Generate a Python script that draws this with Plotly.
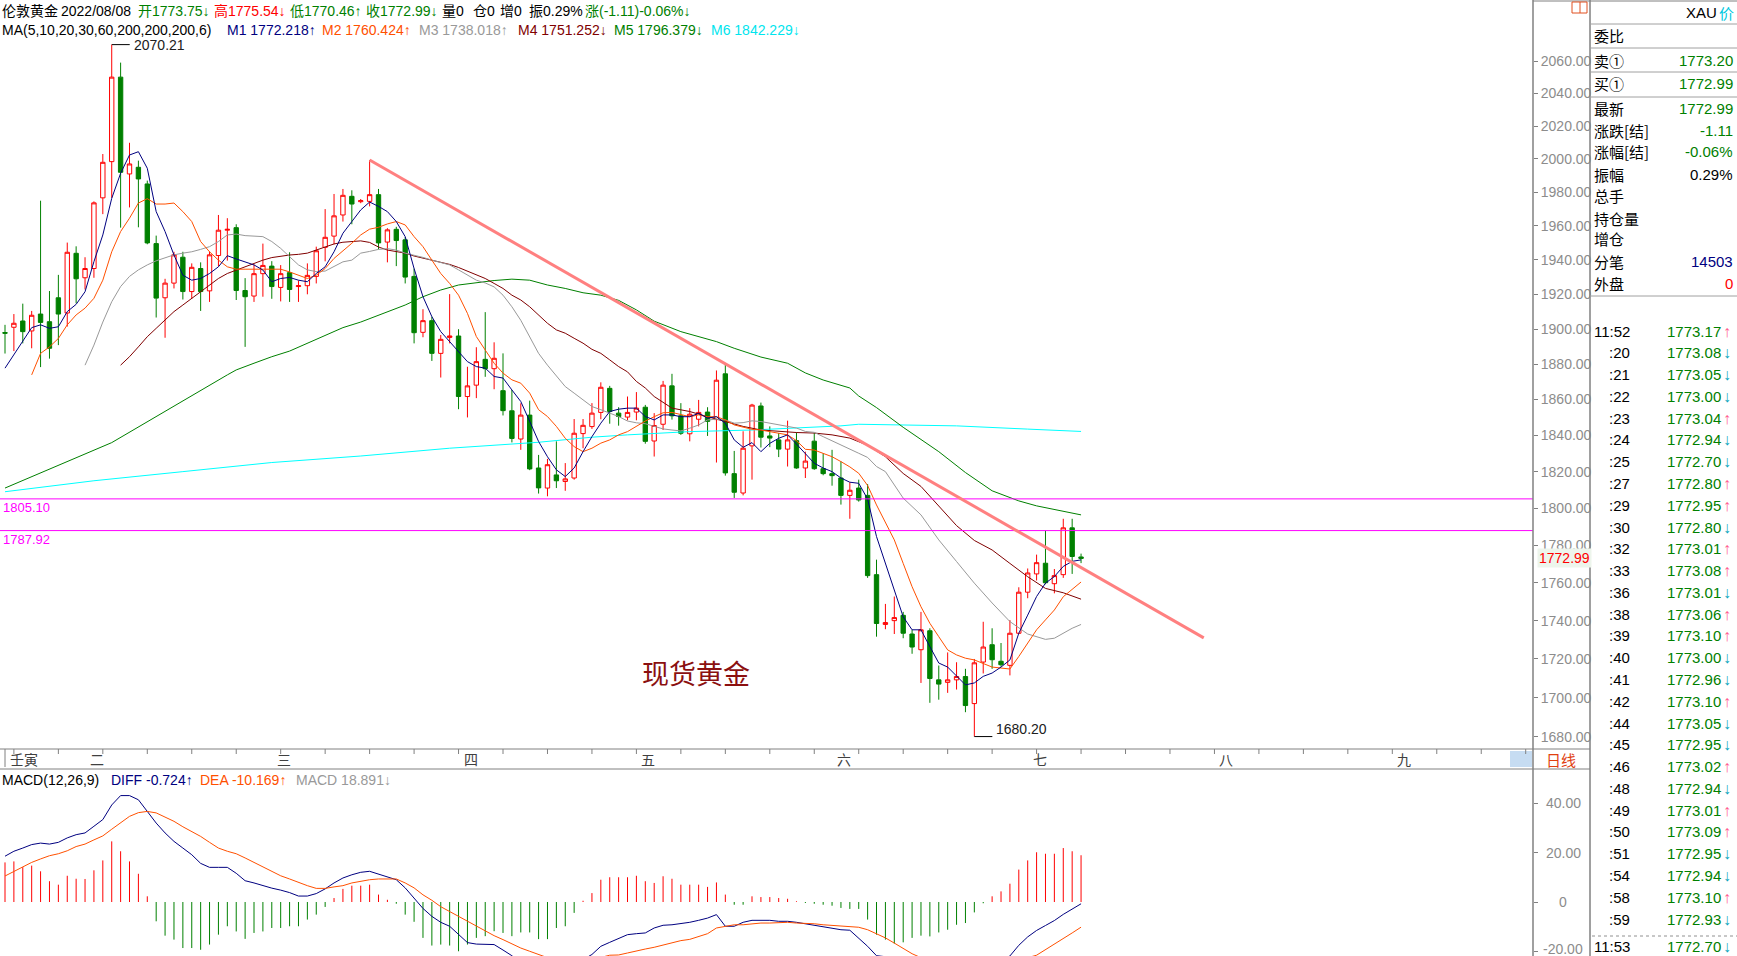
import math
import plotly.graph_objects as go

W, H = 1737, 956
FONT = "Arial, 'Liberation Sans', 'Noto Sans CJK SC', sans-serif"
CJK = "'Noto Sans CJK SC', Arial, sans-serif"

# ---------------- daily candles (index 0 = first visible day) ----------------
opens = [1898.0, 1901.0, 1904.6, 1898.9, 1908.6, 1904.2, 1918.0, 1909.2, 1943.9, 1929.6,
         1935.0, 1976.7, 1998.4, 2050.0, 1991.0, 1995.0, 1985.0, 1949.6, 1918.0, 1926.5,
         1941.6, 1921.6, 1935.0, 1922.0, 1942.6, 1957.5, 1959.0, 1922.2, 1919.0, 1932.0,
         1936.4, 1924.0, 1932.6, 1924.5, 1925.0, 1930.4, 1947.4, 1954.0, 1966.5, 1977.6,
         1974.4, 1974.6, 1978.6, 1950.5, 1958.0, 1951.8, 1930.4, 1898.1, 1904.8, 1886.1,
         1895.2, 1896.0, 1861.7, 1868.1, 1882.7, 1877.4, 1865.0, 1853.7, 1838.0, 1851.3,
         1822.0, 1811.0, 1818.2, 1814.6, 1816.5, 1841.0, 1844.9, 1852.8, 1866.3, 1852.4,
         1850.2, 1853.0, 1855.7, 1836.9, 1846.2, 1867.7, 1850.9, 1840.9, 1849.0, 1853.0,
         1848.8, 1874.5, 1818.9, 1808.3, 1834.2, 1856.4, 1839.7, 1837.5, 1832.4, 1837.1,
         1822.0, 1836.8, 1821.6, 1818.9, 1816.5, 1807.0, 1811.0, 1807.0, 1764.3, 1738.0,
         1740.0, 1742.8, 1733.0, 1724.8, 1734.7, 1709.2, 1707.9, 1709.2, 1710.9, 1697.0,
         1718.4, 1727.4, 1718.8, 1716.7, 1733.4, 1755.0, 1764.7, 1770.4, 1759.5, 1764.3,
         1789.4, 1773.75]
highs = [1902.4, 1908.6, 1914.6, 1910.4, 1975.0, 1921.9, 1931.3, 1950.2, 1948.0, 1941.6,
         1974.6, 2003.0, 2070.21, 2059.0, 2009.8, 1999.0, 1987.0, 1954.3, 1929.0, 1944.8,
         1944.8, 1938.0, 1938.6, 1945.0, 1966.5, 1964.6, 1961.0, 1929.4, 1937.4, 1949.6,
         1939.3, 1937.0, 1944.5, 1928.0, 1938.0, 1947.8, 1970.0, 1979.0, 1982.0, 1981.2,
         1976.0, 1999.4, 1982.0, 1958.7, 1959.5, 1953.5, 1935.0, 1911.4, 1907.1, 1896.6,
         1920.1, 1899.9, 1878.5, 1889.6, 1909.7, 1892.4, 1886.1, 1865.4, 1857.9, 1859.4,
         1829.2, 1827.0, 1836.7, 1824.7, 1849.1, 1849.1, 1858.0, 1869.7, 1867.7, 1855.7,
         1861.7, 1864.2, 1857.0, 1852.4, 1870.5, 1874.5, 1858.0, 1855.2, 1859.8, 1855.7,
         1876.4, 1880.6, 1831.4, 1842.3, 1857.6, 1858.3, 1845.0, 1841.3, 1848.2, 1841.7,
         1831.0, 1841.3, 1830.1, 1832.0, 1825.6, 1814.1, 1815.6, 1813.2, 1772.3, 1748.8,
         1752.7, 1744.6, 1735.2, 1744.6, 1736.0, 1716.6, 1723.4, 1718.3, 1714.9, 1720.0,
         1739.4, 1736.0, 1728.3, 1740.3, 1757.6, 1767.6, 1775.0, 1788.0, 1767.3, 1794.3,
         1794.3, 1775.54]
lows = [1886.0, 1887.4, 1891.8, 1889.0, 1878.3, 1883.1, 1890.8, 1901.4, 1914.8, 1922.8,
        1929.6, 1967.0, 1976.7, 1959.0, 1971.0, 1959.2, 1949.2, 1906.6, 1895.0, 1923.4,
        1917.0, 1917.4, 1910.4, 1915.6, 1936.3, 1939.6, 1916.7, 1889.8, 1915.6, 1918.6,
        1917.4, 1915.9, 1915.6, 1915.6, 1920.0, 1926.3, 1939.2, 1949.2, 1962.6, 1961.0,
        1973.5, 1971.6, 1946.2, 1938.6, 1936.4, 1926.3, 1891.8, 1895.3, 1881.8, 1872.4,
        1891.8, 1854.6, 1850.0, 1860.8, 1872.8, 1865.8, 1851.1, 1836.1, 1832.0, 1820.8,
        1808.0, 1806.5, 1811.0, 1809.5, 1815.6, 1832.9, 1843.6, 1849.0, 1846.5, 1845.4,
        1848.4, 1848.4, 1835.4, 1828.3, 1843.0, 1848.8, 1840.3, 1836.7, 1845.0, 1839.7,
        1825.0, 1817.8, 1805.6, 1807.0, 1815.6, 1833.3, 1833.5, 1828.0, 1822.8, 1821.6,
        1816.5, 1821.0, 1818.0, 1812.3, 1802.0, 1794.3, 1803.6, 1762.6, 1731.6, 1735.5,
        1733.0, 1730.8, 1722.7, 1707.6, 1697.4, 1699.0, 1702.5, 1704.2, 1692.6, 1680.2,
        1712.5, 1714.9, 1716.0, 1711.5, 1733.0, 1751.8, 1761.2, 1759.2, 1754.4, 1762.6,
        1764.7, 1770.46]
closes = [1897.6, 1903.3, 1898.5, 1907.9, 1903.8, 1889.0, 1908.6, 1944.5, 1929.0, 1935.0,
          1973.7, 1998.0, 2050.0, 1992.0, 1997.0, 1988.0, 1950.0, 1917.8, 1926.5, 1943.0,
          1921.6, 1935.7, 1921.6, 1943.0, 1957.5, 1958.0, 1922.2, 1918.6, 1932.0, 1936.8,
          1924.5, 1932.0, 1922.8, 1925.0, 1931.0, 1945.4, 1953.3, 1966.0, 1978.2, 1973.0,
          1975.0, 1978.6, 1950.0, 1957.7, 1951.4, 1930.0, 1897.9, 1904.8, 1886.1, 1894.1,
          1896.0, 1861.7, 1867.7, 1881.4, 1877.4, 1883.3, 1853.8, 1838.3, 1851.3, 1821.5,
          1811.1, 1823.8, 1815.0, 1816.0, 1841.2, 1845.6, 1852.4, 1866.9, 1853.3, 1850.5,
          1852.8, 1855.2, 1836.7, 1845.5, 1868.1, 1850.9, 1841.2, 1851.8, 1852.8, 1847.8,
          1870.9, 1819.3, 1808.7, 1832.9, 1856.9, 1839.0, 1838.5, 1832.4, 1837.5, 1822.0,
          1825.8, 1821.6, 1818.9, 1817.8, 1807.0, 1809.8, 1804.5, 1763.8, 1738.5, 1739.0,
          1741.6, 1733.4, 1726.2, 1735.2, 1709.9, 1707.0, 1709.2, 1710.9, 1696.0, 1718.0,
          1726.2, 1719.6, 1717.0, 1733.4, 1755.0, 1765.2, 1770.7, 1760.0, 1763.8, 1789.4,
          1774.0, 1772.99]
days = list(range(len(closes)))

# ---------------- moving averages ----------------
ma5 = [1877.7, 1885.2, 1892.8, 1900.8, 1902.4, 1900.4, 1901.3, 1910.0, 1914.2, 1921.5,
       1939.0, 1954.7, 1976.4, 1991.4, 2002.4, 2004.4, 1994.4, 1968.5, 1956.7, 1942.9,
       1931.1, 1928.2, 1929.2, 1932.1, 1936.0, 1942.5, 1940.6, 1939.0, 1937.1, 1934.1,
       1927.3, 1929.2, 1929.8, 1928.2, 1927.3, 1932.1, 1936.0, 1944.8, 1955.7, 1962.6,
       1969.5, 1974.2, 1971.6, 1968.5, 1962.6, 1953.7, 1935.0, 1918.6, 1907.1, 1898.5,
       1892.8, 1887.0, 1881.4, 1878.6, 1877.7, 1873.0, 1872.1, 1865.4, 1858.9, 1847.8,
       1836.6, 1828.2, 1821.0, 1817.3, 1822.0, 1831.0, 1839.3, 1846.8, 1853.3, 1854.6,
       1855.2, 1855.2, 1850.5, 1848.6, 1851.4, 1851.4, 1850.4, 1850.4, 1852.3, 1849.6,
       1850.4, 1846.8, 1837.5, 1833.4, 1836.0, 1831.0, 1835.6, 1838.4, 1840.3, 1835.2,
       1830.1, 1824.6, 1822.0, 1820.0, 1816.5, 1814.2, 1813.6, 1805.0, 1784.7, 1770.3,
       1756.2, 1742.0, 1735.2, 1735.2, 1726.4, 1717.9, 1715.8, 1711.0, 1706.6, 1707.6,
       1711.0, 1712.7, 1715.8, 1719.5, 1733.4, 1742.9, 1752.7, 1759.8, 1763.3, 1768.7,
       1771.4, 1772.2]

ma10_days = list(range(3, 122))
ma10 = [1873.9, 1886.1, 1889.8, 1894.6, 1902.4, 1908.1, 1912.0, 1917.7, 1928.2, 1944.8,
        1956.7, 1964.6, 1973.6, 1976.2, 1973.0, 1973.0, 1973.6, 1968.5, 1962.6, 1950.8,
        1944.8, 1939.9, 1936.0, 1934.6, 1934.6, 1934.6, 1934.6, 1934.6, 1934.6, 1933.0,
        1931.1, 1929.2, 1931.1, 1935.0, 1940.9, 1945.2, 1949.8, 1954.7, 1958.1, 1959.2,
        1961.2, 1962.6, 1960.6, 1953.7, 1947.8, 1939.9, 1932.1, 1926.3, 1919.5, 1909.0,
        1895.7, 1888.0, 1880.5, 1874.9, 1871.1, 1869.2, 1863.6, 1854.3, 1850.5, 1845.0,
        1838.4, 1833.8, 1831.0, 1832.9, 1835.7, 1837.5, 1840.3, 1842.1, 1845.0, 1848.0,
        1850.4, 1852.6, 1852.8, 1851.4, 1850.4, 1851.4, 1850.4, 1850.4, 1848.6, 1845.8,
        1844.5, 1843.4, 1843.0, 1842.1, 1841.2, 1840.3, 1837.1, 1832.3, 1831.9, 1830.1,
        1828.2, 1825.5, 1822.6, 1819.1, 1812.4, 1801.8, 1791.9, 1782.9, 1770.3, 1757.9,
        1747.3, 1738.6, 1731.6, 1724.7, 1722.1, 1720.4, 1719.5, 1717.8, 1715.8, 1715.3,
        1714.8, 1721.3, 1728.2, 1735.2, 1740.4, 1745.6, 1752.6, 1756.5, 1760.4]

ma20_days = list(range(9, 99)) + [99, 101, 103, 105, 107, 109, 111, 113, 115, 116, 117, 118, 119, 120, 121]
ma20 = [1879.4, 1890.8, 1904.0, 1915.7, 1924.5, 1930.4, 1934.2, 1937.1, 1939.5, 1941.4,
        1943.0, 1944.0, 1944.8, 1946.2, 1947.8, 1950.8, 1954.7, 1955.2, 1954.3, 1954.0,
        1953.7, 1950.8, 1946.8, 1941.9, 1937.1, 1934.2, 1933.2, 1933.5, 1936.0, 1938.9,
        1939.9, 1944.0, 1945.0, 1946.2, 1946.6, 1945.8, 1944.0, 1942.9, 1941.5, 1939.9,
        1938.3, 1937.1, 1934.2, 1931.1, 1928.2, 1926.6, 1924.3, 1919.5, 1912.8, 1905.0,
        1895.7, 1886.1, 1879.4, 1873.0, 1867.3, 1863.6, 1859.8, 1856.1, 1854.3, 1852.4,
        1850.5, 1848.0, 1847.0, 1846.5, 1845.0, 1843.6, 1843.0, 1842.5, 1844.0, 1845.8,
        1848.6, 1849.0, 1848.6, 1846.8, 1847.1, 1848.1, 1847.7, 1846.8, 1845.5, 1845.0,
        1844.1, 1842.2, 1841.7, 1839.3, 1837.1, 1834.7, 1832.6, 1830.1, 1827.8, 1822.8,
        1820.0, 1805.5, 1796.4, 1782.9, 1771.3, 1759.8, 1749.3, 1739.5, 1733.0, 1731.6,
        1730.2, 1730.8, 1733.4, 1736.0, 1738.0]

ma30_days = list(range(13, 73)) + list(range(73, 122, 2))
ma30 = [1879.4, 1884.2, 1889.8, 1895.6, 1900.4, 1905.0, 1910.0, 1913.8, 1917.7, 1921.5,
        1925.4, 1929.2, 1932.1, 1934.1, 1936.0, 1938.0, 1939.9, 1941.4, 1942.3, 1942.9,
        1943.3, 1944.0, 1945.8, 1947.8, 1949.4, 1950.4, 1950.8, 1951.2, 1950.3, 1947.6,
        1945.8, 1944.8, 1944.0, 1942.3, 1941.0, 1939.9, 1938.3, 1937.4, 1935.6, 1933.4,
        1931.1, 1929.2, 1926.3, 1923.4, 1919.5, 1916.7, 1912.8, 1908.0, 1903.3, 1899.5,
        1897.6, 1894.7, 1891.9, 1888.4, 1886.1, 1882.4, 1878.6, 1875.6, 1870.2, 1866.5,
        1861.7, 1855.2, 1853.3, 1850.4, 1847.7, 1845.0, 1843.0, 1842.1, 1841.6, 1841.3,
        1840.3, 1838.5, 1834.5, 1828.2, 1819.0, 1811.9, 1801.3, 1790.6, 1782.6, 1777.5,
        1770.3, 1763.2, 1757.0, 1754.7, 1751.3]

ma60_days = [0, 12, 25, 26, 28, 30, 32, 34, 36, 38, 40, 41, 43, 45, 47, 49, 51, 53, 55, 57,
             59, 61, 63, 65, 67, 69, 71, 73, 76, 80, 82, 85, 88, 90, 92, 95, 96, 98, 101, 105,
             108, 111, 114, 116, 118, 121]
ma60 = [1811.0, 1836.0, 1873.9, 1876.7, 1880.5, 1884.2, 1887.4, 1891.8, 1896.6, 1900.8,
        1904.0, 1906.0, 1910.0, 1913.8, 1918.6, 1922.5, 1925.4, 1926.8, 1928.0, 1928.8,
        1928.2, 1925.4, 1923.4, 1920.9, 1919.5, 1916.5, 1911.0, 1904.5, 1898.5, 1892.8,
        1889.0, 1884.0, 1880.5, 1875.0, 1871.0, 1866.5, 1862.0, 1855.5, 1844.5, 1831.0,
        1819.5, 1809.5, 1804.0, 1801.3, 1799.3, 1796.4]

ma200_days = [0, 10, 20, 30, 40, 50, 60, 66, 70, 77, 84, 89, 94, 96, 100, 107, 115, 121]
ma200 = [1809.0, 1815.0, 1820.0, 1825.0, 1828.6, 1832.9, 1836.2, 1839.0, 1840.3, 1842.1,
         1843.0, 1844.0, 1845.3, 1846.2, 1846.0, 1845.3, 1843.5, 1842.2]

# ---------------- MACD(12,26,9) ----------------
macd_hist = [16.0, 16.4, 14.1, 14.7, 12.4, 8.4, 7.0, 10.6, 9.4, 9.3,
             12.8, 16.8, 24.5, 20.5, 16.4, 11.4, 2.3, -7.8, -13.6, -15.2,
             -18.6, -18.6, -19.3, -17.2, -13.2, -9.8, -11.9, -14.9, -12.5, -11.9,
             -10.5, -10.5, -9.8, -9.8, -7.1, -5.1, -2.0, 1.6, 5.3, 6.6,
             6.6, 7.0, 3.0, 0.9, -0.7, -5.1, -8.0, -14.5, -17.6, -17.2,
             -17.6, -19.9, -17.2, -14.5, -13.8, -11.8, -12.5, -13.8, -12.3, -12.3,
             -15.0, -15.0, -10.5, -9.8, -4.4, 0.5, 3.6, 9.0, 10.0, 10.0,
             10.0, 10.6, 8.4, 7.7, 10.4, 9.4, 7.0, 7.0, 7.0, 6.1,
             7.9, 3.0, -1.1, -1.1, 2.3, 2.0, 2.0, 1.6, 1.3, 0.3,
             -0.4, -0.7, -1.1, -1.5, -2.4, -2.8, -2.8, -7.1, -13.2, -15.2,
             -16.8, -16.3, -14.5, -13.6, -13.9, -12.3, -11.2, -9.2, -8.5, -4.2,
             -0.5, 2.3, 4.3, 7.4, 13.1, 16.8, 20.1, 19.5, 19.5, 21.8,
             20.5, 18.891]
macd_diff = [18.5, 20.5, 21.8, 23.2, 23.8, 23.4, 24.1, 25.9, 27.2, 27.9,
             30.6, 33.3, 39.2, 43.0, 43.0, 41.3, 36.6, 31.9, 27.9, 24.5,
             21.8, 19.1, 15.6, 14.0, 14.0, 14.0, 11.6, 8.6, 7.7, 6.5,
             5.6, 4.8, 3.8, 2.4, 2.4, 3.4, 5.3, 7.7, 9.7, 11.0,
             12.0, 12.4, 11.3, 10.4, 9.0, 5.7, 1.6, -2.6, -5.8, -8.2,
             -9.8, -13.2, -16.4, -17.0, -17.0, -17.2, -19.4, -21.7, -24.8, -26.0,
             -28.8, -30.0, -28.8, -28.9, -26.2, -23.3, -21.2, -17.9, -16.3, -14.9,
             -13.2, -12.8, -12.5, -10.5, -9.4, -9.2, -8.8, -8.2, -7.4, -6.5,
             -5.1, -9.8, -9.8, -8.2, -7.4, -7.4, -7.4, -7.8, -7.8, -8.2,
             -8.8, -9.2, -9.8, -10.5, -11.2, -11.4, -14.5, -17.9, -21.7, -22.1,
             -25.0, -26.8, -28.2, -29.3, -31.0, -31.5, -31.9, -31.6, -31.8, -29.9,
             -28.0, -26.2, -24.4, -21.8, -17.5, -14.1, -11.5, -9.5, -7.5, -5.0,
             -2.8, -0.724]
macd_dea = [10.5, 12.4, 14.1, 16.0, 17.4, 18.7, 19.5, 20.7, 22.4, 23.4,
            25.1, 26.7, 29.4, 32.1, 34.6, 36.1, 36.6, 36.0, 34.2, 32.6,
            30.4, 28.6, 26.5, 24.1, 21.8, 20.5, 19.5, 17.8, 16.0, 14.4,
            12.4, 10.6, 9.3, 7.9, 6.6, 5.5, 5.5, 6.1, 6.6, 7.7,
            8.4, 9.0, 9.3, 9.3, 9.3, 7.7, 5.7, 2.9, 0.7, -1.9,
            -3.9, -5.8, -7.8, -9.8, -11.9, -13.6, -15.2, -17.0, -18.6, -19.9,
            -21.3, -22.5, -23.5, -24.0, -24.0, -23.5, -23.0, -22.4, -21.5, -21.4,
            -20.6, -19.7, -19.0, -18.3, -17.4, -16.3, -15.6, -15.1, -14.0, -12.8,
            -10.5, -9.8, -9.2, -9.2, -8.8, -8.5, -8.5, -8.2, -8.2, -8.5,
            -8.5, -8.8, -9.2, -9.4, -9.8, -9.8, -10.2, -11.2, -12.8, -14.5,
            -16.6, -18.6, -20.9, -22.5, -24.0, -25.3, -26.3, -27.0, -27.5, -27.8,
            -27.8, -27.3, -26.5, -25.5, -24.0, -22.5, -21.5, -19.3, -17.2, -15.0,
            -12.5, -10.169]

# ---------------- drawing objects / labels ----------------
trend_days = [41, 134.8]
trend_prices = [1999.4, 1731.0]
levels = [1805.10, 1787.92]
price_ticks = list(range(1680, 2061, 20))
macd_ticks = [40, 20, 0, -20]
month_days = [0, 9, 30, 51, 71, 93, 115, 136, 156]
month_labels = ["壬寅", "二", "三", "四", "五", "六", "七", "八", "九"]
week_days = list(range(1, 172, 5))

tick_times = ["11:52", ":20", ":21", ":22", ":23", ":24", ":25", ":27", ":29", ":30",
              ":32", ":33", ":36", ":38", ":39", ":40", ":41", ":42", ":44", ":45",
              ":46", ":48", ":49", ":50", ":51", ":54", ":58", ":59"]
tick_prices = ["1773.17", "1773.08", "1773.05", "1773.00", "1773.04", "1772.94", "1772.70",
               "1772.80", "1772.95", "1772.80", "1773.01", "1773.08", "1773.01", "1773.06",
               "1773.10", "1773.00", "1772.96", "1773.10", "1773.05", "1772.95", "1773.02",
               "1772.94", "1773.01", "1773.09", "1772.95", "1772.94", "1773.10", "1772.93"]
tick_dirs = ["↑", "↓", "↓", "↓", "↑", "↓", "↓", "↑", "↑", "↓", "↑", "↑", "↓", "↑",
             "↑", "↓", "↓", "↑", "↓", "↓", "↑", "↓", "↑", "↑", "↓", "↓", "↑", "↓"]

quote_labels = ["委比", "卖①", "买①", "最新", "涨跌[结]", "涨幅[结]", "振幅", "总手", "持仓量", "增仓", "分笔", "外盘"]
quote_values = ["", "1773.20", "1772.99", "1772.99", "-1.11", "-0.06%", "0.29%", "", "", "", "14503", "0"]
quote_colors = ["#000", "#008000", "#008000", "#008000", "#008000", "#008000", "#000", "#000", "#000", "#000", "#000080", "#ff0000"]

# ---------------- layout geometry (pixels) ----------------
PLOT_R = 1533
PANEL_L = 1590
MAIN_TOP, MAIN_BOT = 38, 749
STRIP_BOT = 769
MACD_TOP = 790
X_STEP = 8.893
X0 = -5 / X_STEP
X1 = X0 + PLOT_R / X_STEP


def px(x):
    return x / W


def py(y):
    return 1 - y / H


K = 3315.0
P_TOP = 2060 * math.exp((61 - MAIN_TOP) / K)
P_BOT = 2060 * math.exp(-(MAIN_BOT - 61) / K)
M_TOP = (902 - MACD_TOP) / 2.475
M_BOT = (902 - H) / 2.475

fig = go.Figure()

fig.add_trace(go.Candlestick(
    x=days, open=opens, high=highs, low=lows, close=closes,
    increasing=dict(line=dict(color="#ff0000", width=1), fillcolor="#ffffff"),
    decreasing=dict(line=dict(color="#008000", width=1), fillcolor="#008000"),
    whiskerwidth=0, hoverinfo="skip", showlegend=False, xaxis="x", yaxis="y"))

ma_specs = [
    (ma200_days, ma200, "#00ffff"),
    (ma60_days, ma60, "#008000"),
    (ma30_days, ma30, "#800000"),
    (ma20_days, ma20, "#999999"),
    (ma10_days, ma10, "#ff5000"),
    (days, ma5, "#000080"),
]
for xs, ys, col in ma_specs:
    fig.add_trace(go.Scatter(x=xs, y=ys, mode="lines", line=dict(color=col, width=1),
                             hoverinfo="skip", showlegend=False, xaxis="x", yaxis="y"))

for lv in levels:
    fig.add_trace(go.Scatter(x=[X0, X1], y=[lv, lv], mode="lines",
                             line=dict(color="#ff00ff", width=1), hoverinfo="skip",
                             showlegend=False, xaxis="x", yaxis="y"))

fig.add_trace(go.Scatter(x=trend_days, y=trend_prices, mode="lines",
                         line=dict(color="#ff8080", width=3), hoverinfo="skip",
                         showlegend=False, xaxis="x", yaxis="y"))

hi_i = highs.index(max(highs))
lo_i = lows.index(min(lows))
for i_, v_ in ((hi_i, highs[hi_i]), (lo_i, lows[lo_i])):
    fig.add_trace(go.Scatter(x=[i_, i_ + 18 / X_STEP], y=[v_, v_], mode="lines",
                             line=dict(color="#000000", width=1), hoverinfo="skip",
                             showlegend=False, xaxis="x", yaxis="y"))

pos_x, pos_y, neg_x, neg_y = [], [], [], []
for i_, v_ in zip(days, macd_hist):
    if v_ >= 0:
        pos_x += [i_, i_, None]
        pos_y += [0, v_, None]
    else:
        neg_x += [i_, i_, None]
        neg_y += [0, v_, None]
fig.add_trace(go.Scatter(x=pos_x, y=pos_y, mode="lines", line=dict(color="#ff0000", width=1),
                         hoverinfo="skip", showlegend=False, xaxis="x2", yaxis="y2"))
fig.add_trace(go.Scatter(x=neg_x, y=neg_y, mode="lines", line=dict(color="#008000", width=1),
                         hoverinfo="skip", showlegend=False, xaxis="x2", yaxis="y2"))
fig.add_trace(go.Scatter(x=days, y=macd_diff, mode="lines", line=dict(color="#000080", width=1),
                         hoverinfo="skip", showlegend=False, xaxis="x2", yaxis="y2"))
fig.add_trace(go.Scatter(x=days, y=macd_dea, mode="lines", line=dict(color="#ff5000", width=1),
                         hoverinfo="skip", showlegend=False, xaxis="x2", yaxis="y2"))

annotations = []


def note(x, y, text, color="#000000", size=14, xanchor="left", family=FONT, **kw):
    d = dict(xref="paper", yref="paper", x=px(x), y=py(y), text=text, showarrow=False,
             xanchor=xanchor, yanchor="middle", font=dict(color=color, size=size, family=family))
    d.update(kw)
    annotations.append(d)


head1 = [(0, "伦敦黄金", "#000000"), (59, "2022/08/08", "#000000"), (136, "开1773.75↓", "#008000"),
         (212, "高1775.54↓", "#ff0000"), (288, "低1770.46↑", "#008000"), (364, "收1772.99↓", "#008000"),
         (440, "量0", "#000000"), (471, "仓0", "#000000"), (498, "增0", "#000000"),
         (527, "振0.29%", "#000000"), (583, "涨(-1.11)-0.06%↓", "#008000")]
for x_, t_, c_ in head1:
    note(x_, 11, t_, c_)
head2 = [(0, "MA(5,10,20,30,60,200,200,200,6)", "#000000"), (225, "M1 1772.218↑", "#000080"),
         (320, "M2 1760.424↑", "#ff5000"), (417, "M3 1738.018↑", "#999999"),
         (516, "M4 1751.252↓", "#800000"), (612, "M5 1796.379↓", "#008000"),
         (709, "M6 1842.229↓", "#00e5ee")]
for x_, t_, c_ in head2:
    note(x_, 30, t_, c_)
head3 = [(0, "MACD(12,26,9)", "#000000"), (109, "DIFF -0.724↑", "#000080"),
         (198, "DEA -10.169↑", "#ff5000"), (294, "MACD 18.891↓", "#999999")]
for x_, t_, c_ in head3:
    note(x_, 780, t_, c_)

annotations.append(dict(xref="x", yref="y", x=hi_i, y=math.log10(highs[hi_i]), text=f"{highs[hi_i]:.2f}",
                        showarrow=False, xanchor="left", yanchor="middle", xshift=20,
                        font=dict(size=14, color="#202020", family=FONT)))
annotations.append(dict(xref="x", yref="y", x=lo_i, y=math.log10(lows[lo_i]), text=f"{lows[lo_i]:.2f}",
                        showarrow=False, xanchor="left", yanchor="middle", xshift=20, yshift=8,
                        font=dict(size=14, color="#202020", family=FONT)))

for lv in levels:
    annotations.append(dict(xref="paper", yref="y", x=px(1), y=math.log10(lv), text=f"{lv:.2f}",
                            showarrow=False, xanchor="left", yanchor="middle", yshift=-9,
                            font=dict(size=13, color="#ff00ff", family=FONT)))

note(696, 672, "现货黄金", "#8b1010", 27, "center", CJK)

annotations.append(dict(xref="paper", yref="y", x=px(1537), y=math.log10(closes[-1]), text=f"{closes[-1]:.2f}",
                        showarrow=False, xanchor="left", yanchor="middle", bgcolor="#edf5ec",
                        font=dict(size=14, color="#ff0000", family=FONT)))

for d_, lab in zip(month_days, month_labels):
    annotations.append(dict(xref="x", yref="paper", x=d_, y=py(759), text=lab, showarrow=False,
                            xanchor="left", yanchor="middle", xshift=3,
                            font=dict(size=14, color="#404040", family=CJK)))

for v_ in macd_ticks:
    annotations.append(dict(xref="paper", yref="y2", x=px(1563), y=v_,
                            text=("0" if v_ == 0 else f"{v_:.2f}"), showarrow=False,
                            xanchor="center", yanchor="middle", yshift=(3 if v_ < 0 else 0),
                            font=dict(size=14, color="#8c8c8c", family=FONT)))

note(1561, 759, "日线", "#e04010", 15, "center", CJK)

note(1684, 13, "XAU", "#000000", 15)
note(1717, 13, "价", "#00c8e0", 15, family=CJK)
q_y = [35, 61, 84, 108, 130, 152, 174, 195, 218, 238, 261, 284]
for yy, lab, val, col in zip(q_y, quote_labels, quote_values, quote_colors):
    note(1592, yy, lab, "#000000", 15, family=CJK)
    if val:
        note(1735, yy, val, col, 15, "right")

row_y = [331 + 21.78 * k for k in range(len(tick_times))]
for yy, t_, p_, d_ in zip(row_y, tick_times, tick_prices, tick_dirs):
    note(1632, yy, t_, "#000000", 15, "right")
    note(1665, yy, p_, "#008000", 15)
    note(1721, yy, d_, "#ff6090" if d_ == "↑" else "#10a8c0", 16)
note(1632, 946, "11:53", "#000000", 15, "right")
note(1665, 946, "1772.70", "#008000", 15)
note(1721, 946, "↓", "#10a8c0", 16)

shapes = []


def line(x0, y0, x1, y1, color="#808080", width=1, dash=None):
    d = dict(type="line", xref="paper", yref="paper", x0=px(x0), y0=py(y0), x1=px(x1), y1=py(y1),
             line=dict(color=color, width=width))
    if dash:
        d["line"]["dash"] = dash
    shapes.append(d)


line(0, MAIN_BOT, PANEL_L, MAIN_BOT)
line(0, STRIP_BOT, PANEL_L, STRIP_BOT)
line(PLOT_R, 0, PLOT_R, H, width=1.5)
line(PANEL_L, 0, PANEL_L, H, width=1.5)
line(PLOT_R, 1, W, 1)
for yy in (24, 48, 72, 97, 296):
    line(PANEL_L, yy, W, yy, "#a0a0a0")
line(1592, 936, W, 936, "#909090", 1, "dot")
shapes.append(dict(type="rect", xref="paper", yref="paper", x0=px(1510), x1=px(1532), y0=py(767), y1=py(751),
                   line=dict(width=0), fillcolor="#c6dcf2"))
shapes.append(dict(type="rect", xref="paper", yref="paper", x0=px(1572), x1=px(1587), y0=py(13), y1=py(2),
                   line=dict(color="#e05020", width=1), fillcolor="rgba(0,0,0,0)"))
line(1580, 2, 1580, 13, "#e05020")

for d_ in week_days:
    shapes.append(dict(type="line", xref="x", yref="paper", x0=d_, x1=d_, y0=py(MAIN_BOT), y1=py(MAIN_BOT + 5),
                       line=dict(color="#808080", width=1)))
shapes.append(dict(type="line", xref="x", yref="paper", x0=0, x1=0, y0=py(MAIN_BOT), y1=py(STRIP_BOT - 2),
                   line=dict(color="#808080", width=1)))

fig.update_layout(
    width=W, height=H, margin=dict(l=0, r=0, t=0, b=0),
    paper_bgcolor="#ffffff", plot_bgcolor="#ffffff", showlegend=False,
    font=dict(family=FONT),
    xaxis=dict(domain=[0, px(PLOT_R)], range=[X0, X1], showticklabels=False, showgrid=False,
               zeroline=False, showline=False, ticks="", rangeslider=dict(visible=False), anchor="y"),
    yaxis=dict(domain=[py(MAIN_BOT), py(MAIN_TOP)], type="log",
               range=[math.log10(P_BOT), math.log10(P_TOP)], side="right",
               tickvals=price_ticks, ticktext=[f"{v:.2f}" for v in price_ticks],
               ticks="outside", ticklen=4, tickcolor="#808080",
               tickfont=dict(size=14, color="#8c8c8c", family=FONT),
               showgrid=False, zeroline=False, showline=False, anchor="x"),
    xaxis2=dict(domain=[0, px(PLOT_R)], range=[X0, X1], showticklabels=False, showgrid=False,
                zeroline=False, showline=False, ticks="", anchor="y2"),
    yaxis2=dict(domain=[0, py(MACD_TOP)], range=[M_BOT, M_TOP], side="right",
                tickvals=macd_ticks, showticklabels=False, ticks="outside", ticklen=4,
                tickcolor="#808080", showgrid=False, zeroline=False, showline=False, anchor="x2"),
    annotations=annotations, shapes=shapes,
)

fig.write_html("out.html", config={"displayModeBar": False},
               post_script="document.body.style.margin='0px';document.body.style.overflow='hidden';")
